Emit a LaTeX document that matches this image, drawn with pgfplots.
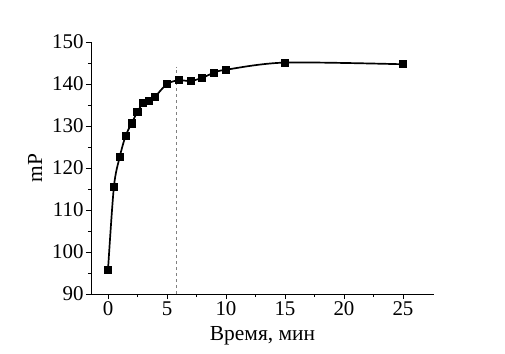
\documentclass[border=0pt]{standalone}
\usepackage{fontspec}
\setmainfont{Liberation Serif}
\usepackage{pgfplots}
\pgfplotsset{compat=1.18}
\begin{document}
\begin{tikzpicture}
\path[use as bounding box] (-91bp,-60bp) rectangle (414bp,294bp);
\begin{axis}[
  at={(0,0)}, anchor=south west,
  scale only axis, width=343bp, height=252bp,
  xmin=-1.44, xmax=27.63, ymin=90, ymax=150,
  axis x line*=bottom, axis y line*=left,
  axis line style={line width=0.8pt},
  xtick={0,5,...,25}, ytick={90,100,...,150},
  minor x tick num=1, minor y tick num=1,
  tick align=outside,
  major tick length=5bp, minor tick length=3bp,
  tick style={line width=0.8pt, black},
  /pgf/number format/assume math mode=true,
  ticklabel style={font=\fontsize{21}{24}\selectfont},
  xticklabel style={yshift=1bp},
  yticklabel style={xshift=1bp},
  label style={font=\fontsize{21.5}{24}\selectfont},
  xlabel={Время, мин}, ylabel={mP},
  xlabel style={at={(axis description cs:0.5,-0.165)}, anchor=center},
  ylabel style={at={(axis description cs:-0.163,0.5)}, anchor=center},
  clip=false,
]
\addplot[gray, dashed, line width=0.6pt] coordinates {(5.8,90) (5.8,144.1)};
\addplot[black, line width=1.7pt, smooth, tension=0.5, mark=square*, mark size=3.2bp, mark options={solid}]
coordinates {
(0,95.7) (0.5,115.5) (1,122.7) (1.5,127.7) (2,130.6) (2.5,133.4) (3,135.5) (3.5,135.9) (4,137.0) (5,140.0) (6,140.9) (7,140.7) (8,141.5) (9,142.7) (10,143.4) (15,145.1) (25,144.7)
};
\end{axis}
\end{tikzpicture}
\end{document}
